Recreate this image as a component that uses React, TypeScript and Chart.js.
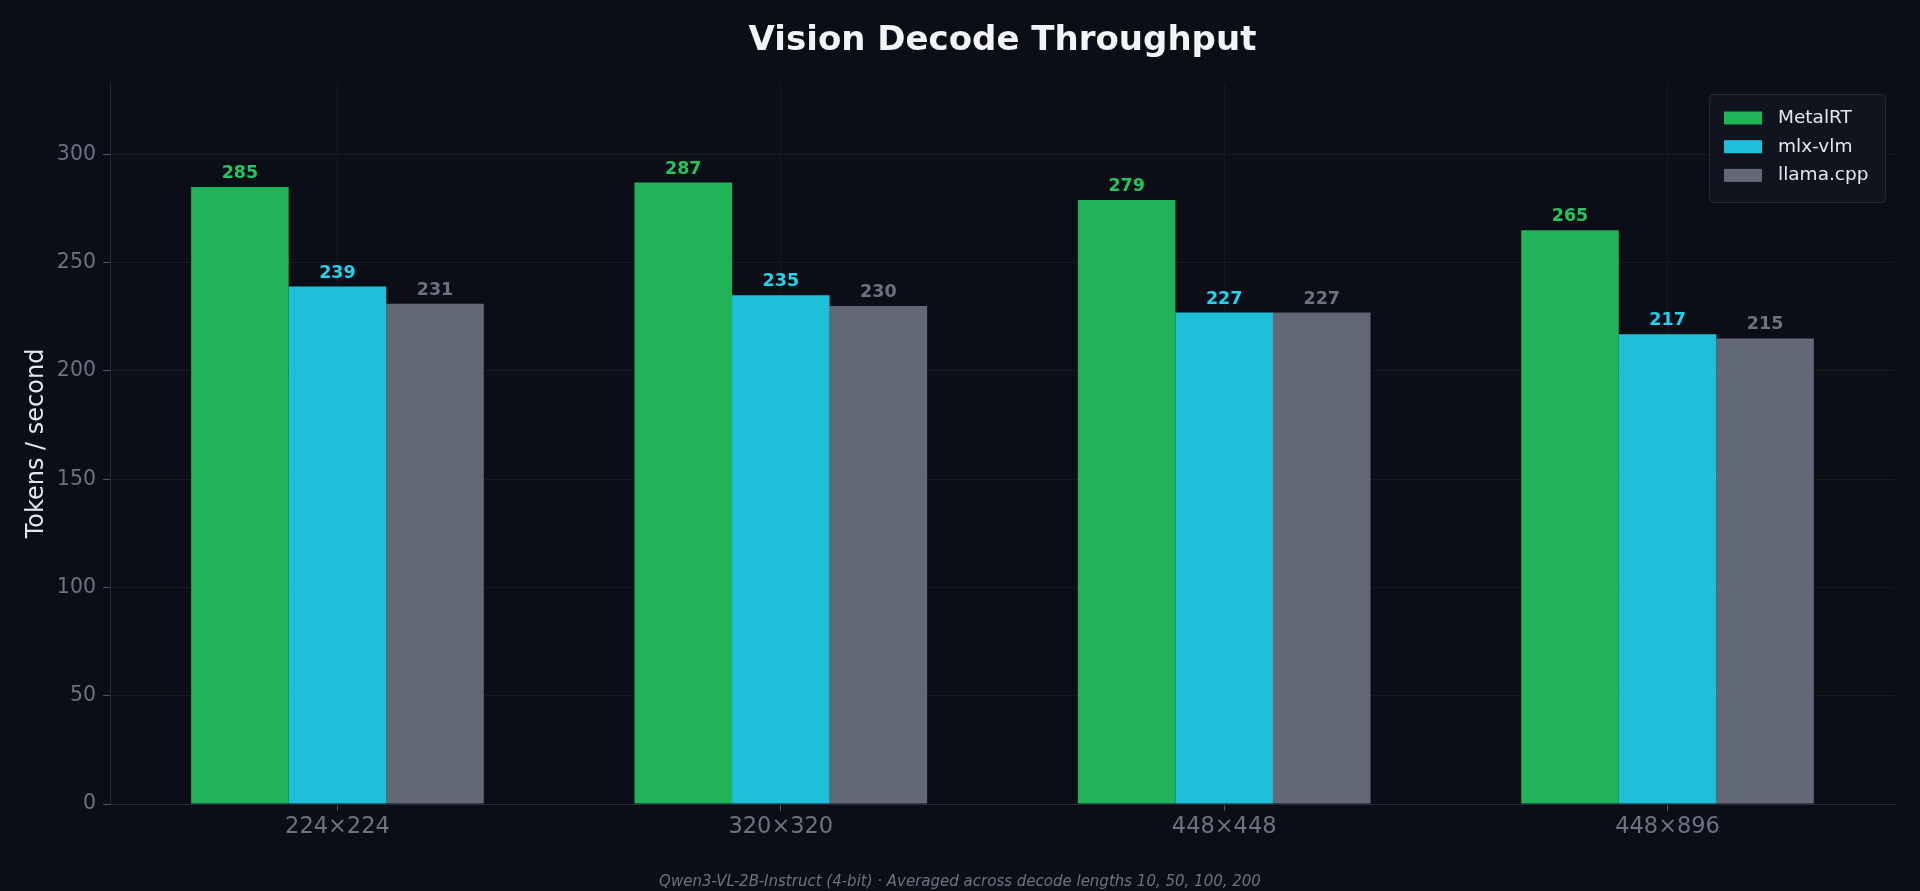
import { useEffect, useRef } from "react";
import { Chart, registerables, Plugin } from "chart.js";

Chart.register(...registerables);

// data
const resolutions = ["224×224", "320×320", "448×448", "448×896"];
const metalrt = [285, 287, 279, 265];
const mlxVlm = [239, 235, 227, 217];
const llamaCpp = [231, 230, 227, 215];
const yTicks = [0, 50, 100, 150, 200, 250, 300];
const yMax = 333;

const titleText = "Vision Decode Throughput";
const footerText =
  "Qwen3-VL-2B-Instruct (4-bit) · Averaged across decode lengths 10, 50, 100, 200";

const BG = "#0b0e17";
const GRID = "#151a25";
const SPINE = "#262c39";
const MUTED = "#6b7280";
const LIGHT = "#e5e7eb";
const FONT = "'DejaVu Sans', sans-serif";

const labelColors = ["#22c55e", "#22d3ee", "#6b7280"];

// numbers above each bar
const valueLabels: Plugin<"bar"> = {
  id: "valueLabels",
  afterDatasetsDraw(chart) {
    const { ctx } = chart;
    ctx.save();
    ctx.font = `bold 17.5px ${FONT}`;
    ctx.textAlign = "center";
    ctx.textBaseline = "alphabetic";
    chart.data.datasets.forEach((ds, i) => {
      const meta = chart.getDatasetMeta(i);
      ctx.fillStyle = labelColors[i];
      meta.data.forEach((bar, j) => {
        ctx.fillText(String(ds.data[j]), bar.x, bar.y - 9);
      });
    });
    ctx.restore();
  },
};

// title centred over the plot, footer centred on the figure
const headings: Plugin<"bar"> = {
  id: "headings",
  afterDraw(chart) {
    const { ctx, chartArea, width } = chart;
    ctx.save();
    ctx.textAlign = "center";
    ctx.textBaseline = "middle";
    ctx.fillStyle = "#f3f4f6";
    ctx.font = `bold 34px ${FONT}`;
    ctx.fillText(titleText, (chartArea.left + chartArea.right) / 2, 41);
    ctx.fillStyle = MUTED;
    ctx.font = `italic 15px ${FONT}`;
    ctx.fillText(footerText, width / 2, 882);
    ctx.restore();
  },
};

// boxed legend in the upper right of the plot
const legendBox: Plugin<"bar"> = {
  id: "legendBox",
  afterDraw(chart) {
    const { ctx, chartArea } = chart;
    const w = 176;
    const h = 108;
    const x = chartArea.right - 10 - w;
    const y = chartArea.top + 11;
    ctx.save();
    ctx.fillStyle = "#10141e";
    ctx.strokeStyle = "#232a36";
    ctx.lineWidth = 1;
    ctx.beginPath();
    ctx.roundRect(x + 0.5, y + 0.5, w, h, 4);
    ctx.fill();
    ctx.stroke();
    ctx.font = `18.5px ${FONT}`;
    ctx.textBaseline = "middle";
    ctx.textAlign = "left";
    chart.data.datasets.forEach((ds, i) => {
      const cy = y + 24 + i * 28.7;
      ctx.fillStyle = ds.backgroundColor as string;
      ctx.fillRect(x + 15, cy - 6.5, 38, 13);
      ctx.fillStyle = LIGHT;
      ctx.fillText(ds.label ?? "", x + 69, cy);
    });
    ctx.restore();
  },
};

export default function App() {
  const canvasRef = useRef<HTMLCanvasElement | null>(null);

  useEffect(() => {
    document.body.style.margin = "0";
    document.body.style.background = BG;
    if (!canvasRef.current) return;

    const chart = new Chart(canvasRef.current, {
      type: "bar",
      data: {
        // numeric positions so the x range can be padded like the original
        labels: resolutions.map((_, i) => i),
        datasets: [
          { label: "MetalRT", data: metalrt, backgroundColor: "rgba(34,197,94,0.9)" },
          { label: "mlx-vlm", data: mlxVlm, backgroundColor: "rgba(34,211,238,0.9)" },
          { label: "llama.cpp", data: llamaCpp, backgroundColor: "rgba(107,114,128,0.9)" },
        ],
      },
      options: {
        responsive: true,
        maintainAspectRatio: false,
        animation: false,
        datasets: {
          bar: { categoryPercentage: 0.66, barPercentage: 1.0, borderWidth: 0 },
        },
        layout: { padding: { left: 0, right: 25, top: 83, bottom: 47 } },
        plugins: {
          legend: { display: false },
          tooltip: { enabled: false },
          title: { display: false },
        },
        scales: {
          x: {
            type: "linear",
            min: -0.513,
            max: 3.513,
            offset: false,
            afterBuildTicks: (scale) => {
              scale.ticks = resolutions.map((_, i) => ({ value: i }));
            },
            grid: {
              color: GRID,
              offset: false,
              tickColor: "#4b5263",
              tickLength: 7,
            },
            border: { color: SPINE },
            ticks: {
              color: MUTED,
              font: { family: FONT, size: 22.5 },
              padding: 3,
              callback: (value) => resolutions[Number(value)] ?? "",
            },
          },
          y: {
            min: 0,
            max: yMax,
            afterFit: (scale) => {
              scale.width = 110;
            },
            afterBuildTicks: (scale) => {
              scale.ticks = yTicks.map((v) => ({ value: v }));
            },
            grid: { color: GRID, tickColor: "#4b5263", tickLength: 7 },
            border: { color: SPINE },
            ticks: {
              color: MUTED,
              font: { family: FONT, size: 20.5 },
              padding: 7,
            },
            title: {
              display: true,
              text: "Tokens / second",
              color: LIGHT,
              font: { family: FONT, size: 24 },
              padding: { top: 22, bottom: 0 },
            },
          },
        },
      },
      plugins: [valueLabels, legendBox, headings],
    });

    return () => chart.destroy();
  }, []);

  return (
    <div style={{ width: 1920, height: 891, background: BG, position: "relative" }}>
      <canvas ref={canvasRef} />
    </div>
  );
}
